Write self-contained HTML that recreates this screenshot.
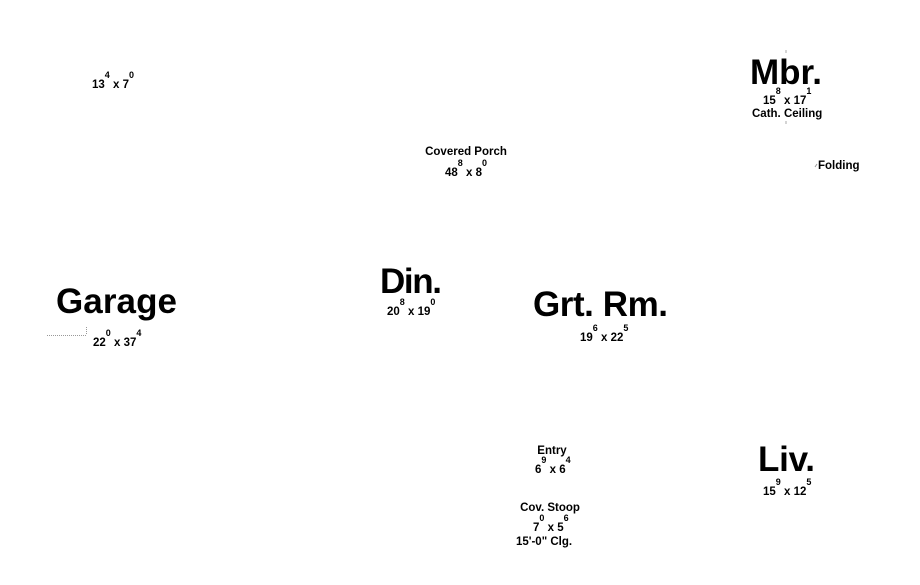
<!DOCTYPE html>
<html><head><meta charset="utf-8"><style>
html,body{margin:0;padding:0;background:#fff;width:920px;height:585px;overflow:hidden}
svg{display:block}
text{font-family:"Liberation Sans",Arial,sans-serif;font-weight:bold;fill:#000}
.b{font-size:35px}
.s{font-size:11.5px}
.u{font-size:9px}
</style></head><body>
<svg width="920" height="585" viewBox="0 0 920 585">
<text class="b" x="56" y="313" textLength="121">Garage</text>
<text class="b" x="750" y="84" textLength="72">Mbr.</text>
<text class="b" x="380" y="293" textLength="62">Din.</text>
<text class="b" x="533" y="316" textLength="135">Grt. Rm.</text>
<text class="b" x="758" y="471" textLength="57">Liv.</text>

<text class="s" x="92" y="88">13<tspan class="u" dy="-10">4</tspan><tspan dy="10"> x 7</tspan><tspan class="u" dy="-10">0</tspan></text>

<text class="s" x="763" y="104">15<tspan class="u" dy="-10">8</tspan><tspan dy="10"> x 17</tspan><tspan class="u" dy="-10">1</tspan></text>
<text class="s" x="752" y="117">Cath. Ceiling</text>
<line x1="786" y1="50" x2="786" y2="53" stroke="#aaa" stroke-width="1"/>
<line x1="786" y1="121" x2="786" y2="124" stroke="#aaa" stroke-width="1"/>
<text class="s" x="818" y="169">Folding</text>
<line x1="815" y1="167" x2="817" y2="164" stroke="#999" stroke-width="1"/>

<text class="s" x="466" y="155" text-anchor="middle">Covered Porch</text>
<text class="s" x="445" y="176">48<tspan class="u" dy="-10">8</tspan><tspan dy="10"> x 8</tspan><tspan class="u" dy="-10">0</tspan></text>

<text class="s" x="387" y="315">20<tspan class="u" dy="-10">8</tspan><tspan dy="10"> x 19</tspan><tspan class="u" dy="-10">0</tspan></text>

<text class="s" x="93" y="346">22<tspan class="u" dy="-10">0</tspan><tspan dy="10"> x 37</tspan><tspan class="u" dy="-10">4</tspan></text>
<line x1="47" y1="335.5" x2="86" y2="335.5" stroke="#999" stroke-width="1" stroke-dasharray="1,1"/>
<line x1="86.5" y1="327" x2="86.5" y2="335" stroke="#999" stroke-width="1" stroke-dasharray="1,1"/>

<text class="s" x="580" y="341">19<tspan class="u" dy="-10">6</tspan><tspan dy="10"> x 22</tspan><tspan class="u" dy="-10">5</tspan></text>

<text class="s" x="552" y="454" text-anchor="middle">Entry</text>
<text class="s" x="535" y="473">6<tspan class="u" dy="-10">9</tspan><tspan dy="10"> x 6</tspan><tspan class="u" dy="-10">4</tspan></text>

<text class="s" x="763" y="495">15<tspan class="u" dy="-10">9</tspan><tspan dy="10"> x 12</tspan><tspan class="u" dy="-10">5</tspan></text>

<text class="s" x="550" y="511" text-anchor="middle">Cov. Stoop</text>
<text class="s" x="533" y="531">7<tspan class="u" dy="-10">0</tspan><tspan dy="10"> x 5</tspan><tspan class="u" dy="-10">6</tspan></text>
<text class="s" x="544" y="545" text-anchor="middle">15'-0" Clg.</text>
</svg>
</body></html>
